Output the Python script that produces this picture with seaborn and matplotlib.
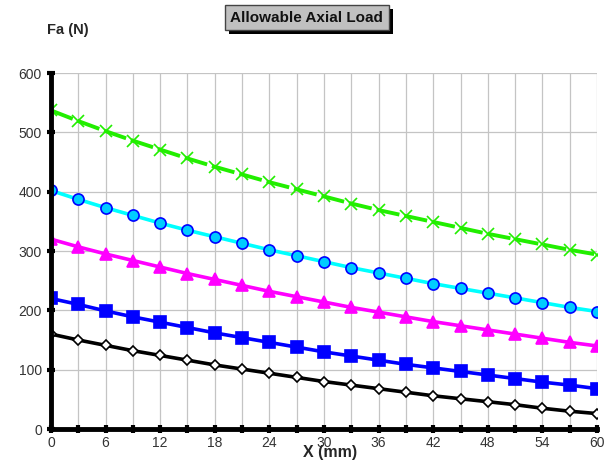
import numpy as np
import pandas as pd
import matplotlib
matplotlib.use('Agg')
import matplotlib.pyplot as plt
import matplotlib.patheffects as pe
import seaborn as sns

# данные
x_mm = list(range(0, 61, 3))
fa_green = [537, 519, 502, 486, 471, 456, 442, 429, 416, 404, 392, 380, 369, 359, 349, 339, 329, 320, 311, 302, 294]
fa_cyan = [402, 387, 373, 360, 347, 335, 324, 313, 302, 292, 282, 272, 263, 254, 245, 237, 229, 221, 213, 205, 198]
fa_magenta = [320, 307, 295, 284, 273, 262, 252, 242, 232, 223, 214, 205, 197, 189, 181, 174, 167, 160, 153, 146, 140]
fa_blue = [220, 210, 199, 189, 180, 171, 162, 154, 146, 138, 130, 123, 116, 109, 103, 97, 91, 85, 79, 74, 68]
fa_black = [160, 150, 141, 132, 124, 116, 108, 101, 94, 87, 80, 74, 68, 62, 56, 51, 46, 41, 35, 30, 26]

sns.set_style('white')
plt.rcParams['font.family'] = ['Liberation Sans', 'DejaVu Sans']

fig = plt.figure(figsize=(6.1, 4.61), dpi=100)
ax = fig.add_axes([0.0836, 0.0694, 0.8951, 0.7722])

# стиль каждой серии: цвет линии, маркер, заливка, кромка, линия, размер
styles = [
    (fa_green, '#22ee00', 'x', '#22ee00', '#22ee00', (0, (6, 1.3)), 8),
    (fa_cyan, '#00ffff', 'o', '#00ccff', '#0000ff', '-', 8),
    (fa_magenta, '#ff00ff', '^', '#ff00ff', '#ff00ff', '-', 8),
    (fa_blue, '#0000ff', 's', '#0000ff', '#0000ff', '-', 8),
    (fa_black, '#000000', 'D', 'white', 'black', '-', 5),
]

for vals, col, mk, fc, ec, ls, ms in styles:
    df = pd.DataFrame({'x': x_mm, 'y': vals})
    sns.lineplot(data=df, x='x', y='y', ax=ax, color=col, lw=2.8 if mk == 'x' else 2.6,
                 linestyle=ls, marker=mk, markersize=ms, markerfacecolor=fc,
                 markeredgecolor=ec, markeredgewidth=1.2, zorder=3)

ax.set_xlim(0, 60)
ax.set_ylim(0, 600)
ax.set_xticks(range(0, 61, 6))
ax.set_xticks(range(3, 61, 6), minor=True)
ax.set_yticks(range(0, 601, 100))
ax.grid(True, which='both', color='#c4c4c4', lw=0.9)
ax.set_axisbelow(True)

for s in ['left', 'bottom']:
    ax.spines[s].set_color('black')
    ax.spines[s].set_linewidth(3.5)
    ax.spines[s].set_zorder(4)
for s in ['top', 'right']:
    ax.spines[s].set_visible(False)

ax.tick_params(axis='both', which='both', direction='inout', length=6, width=3,
               color='black', labelsize=10, labelcolor='#333333', bottom=True, left=True)
ax.tick_params(axis='x', which='minor', labelbottom=False)
ax.tick_params(axis='x', pad=2)
ax.set_xlabel('')
ax.set_ylabel('')

fig.text(0.077, 0.935, 'Fa (N)', fontsize=10.5, fontweight='bold', ha='left', va='center')
fig.text(0.541, 0.019, 'X (mm)', fontsize=11.5, fontweight='bold', ha='center', va='center')

t = fig.text(0.503, 0.962, 'Allowable Axial Load', fontsize=11, fontweight='bold',
             ha='center', va='center', color='#111111',
             bbox=dict(boxstyle='square,pad=0.35', facecolor='#c0c0c0', edgecolor='#444444', lw=1))
t.get_bbox_patch().set_path_effects([pe.SimplePatchShadow(offset=(3, -3), shadow_rgbFace='black', alpha=1),
                                     pe.Normal()])

fig.savefig('out.png', dpi=100)
